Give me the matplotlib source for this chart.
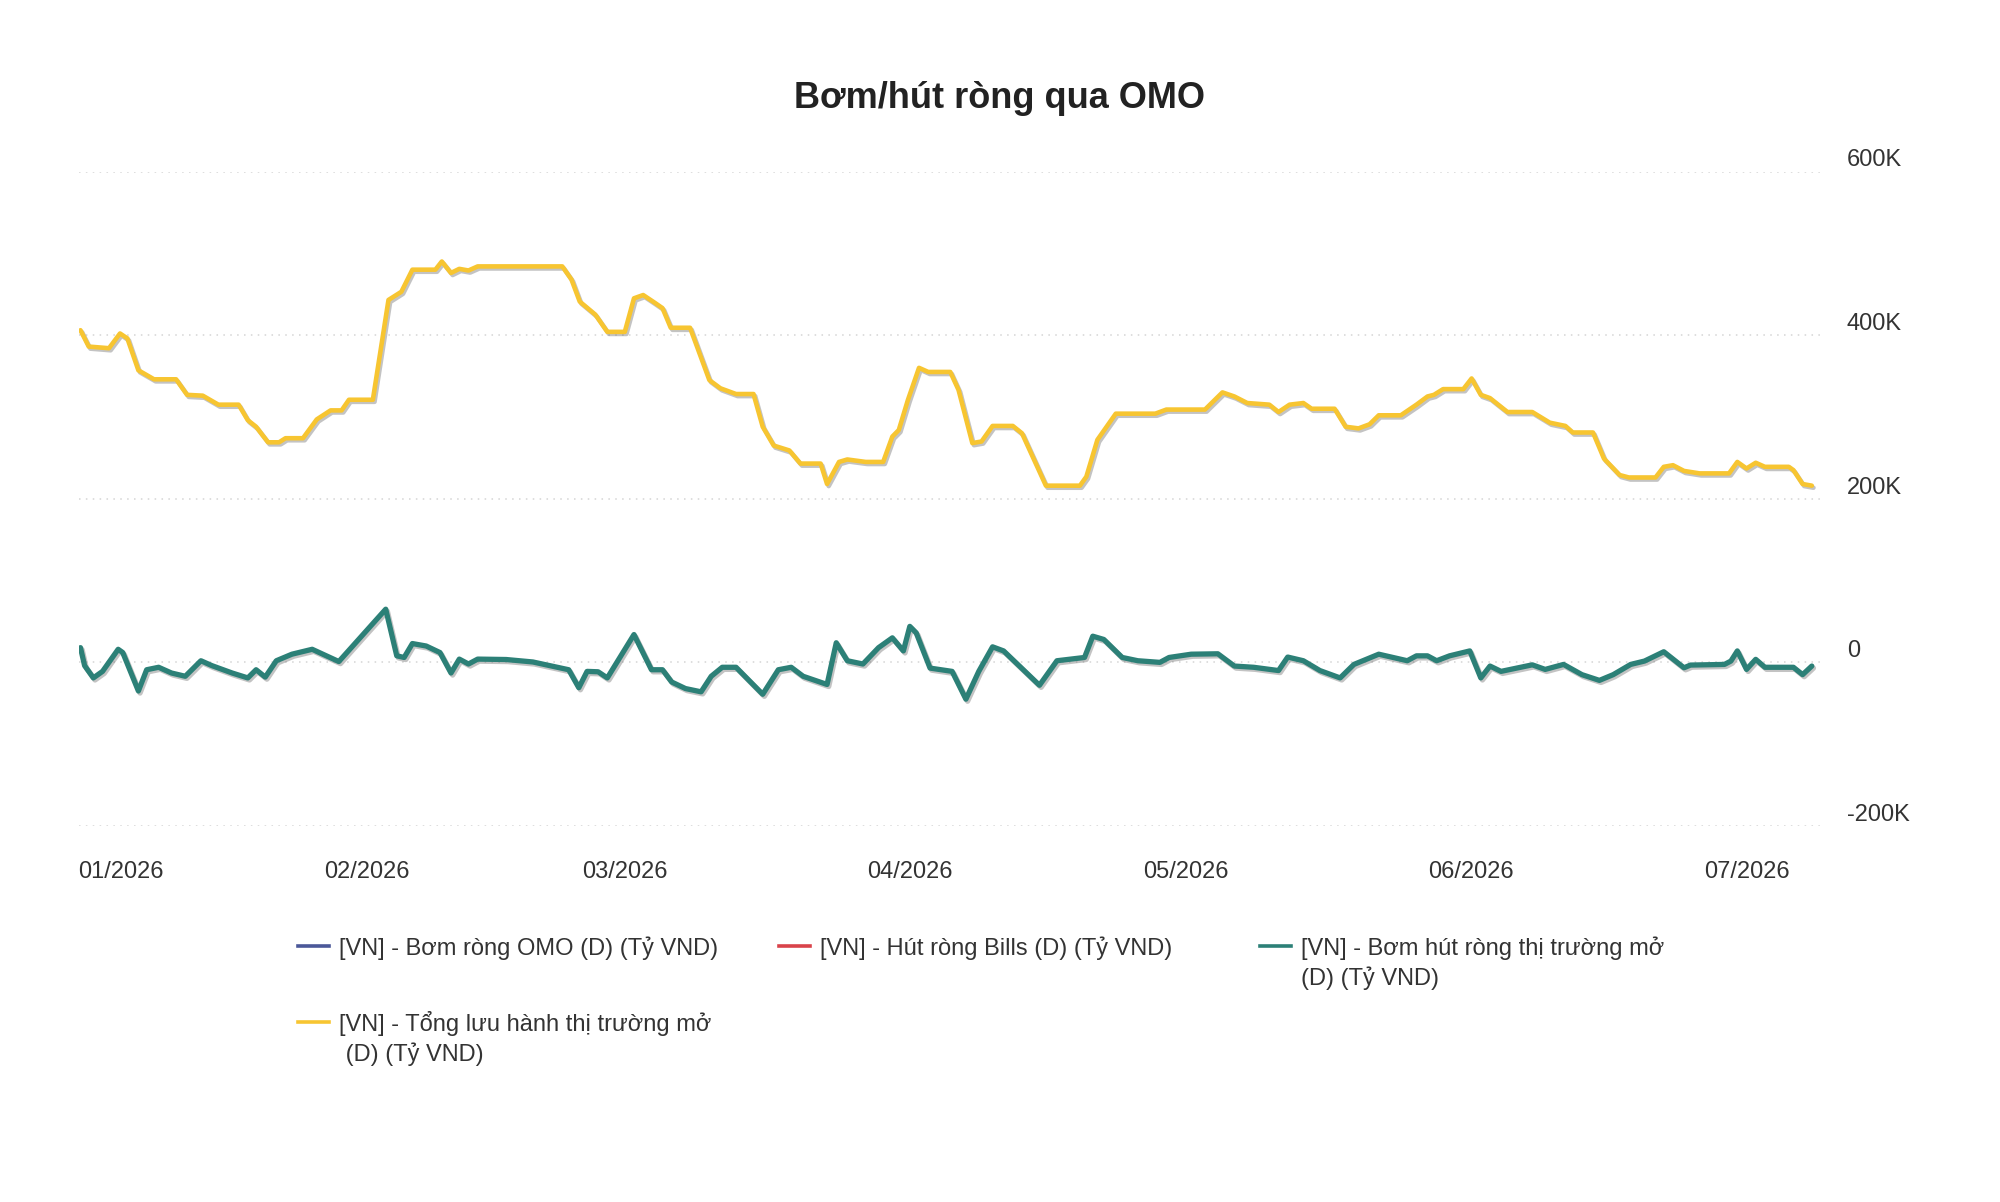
"""Recreate the OMO net injection / withdrawal line chart."""

from datetime import datetime, timedelta

import matplotlib

matplotlib.use("Agg")
import matplotlib.patheffects as pe
import matplotlib.pyplot as plt
from matplotlib.lines import Line2D
from matplotlib.transforms import ScaledTranslation

plt.rcParams["font.family"] = ["Liberation Sans", "DejaVu Sans"]

TITLE = "Bơm/hút ròng qua OMO"
START_DATE = datetime(2026, 1, 1)

# Days after 01/01/2026 and values in thousand billion VND (K).
OUTSTANDING_DAYS = [
    -0.2, 0.7, 2.9, 4.1, 4.9, 6.1, 7.8, 10.2, 11.4, 13.1, 14.8, 17.0, 18.0, 18.9,
    20.2, 21.4, 22.1, 24.0, 25.5, 27.0, 28.2, 29.0, 31.6, 33.3, 34.7, 35.9, 38.4,
    39.1, 40.1, 41.0, 42.0, 43.0, 52.2, 53.2, 54.1, 55.8, 57.1, 59.0, 60.0, 61.0,
    62.2, 63.1, 64.0, 66.1, 68.2, 69.4, 71.1, 73.0, 74.0, 75.2, 76.9, 78.1, 80.3,
    81.0, 82.3, 83.2, 85.2, 87.1, 88.1, 88.8, 89.8, 91.0, 92.0, 94.4, 95.3, 96.8,
    97.8, 99.0, 101.2, 102.2, 104.8, 108.5, 109.2, 110.4, 112.4, 116.7, 117.9,
    122.1, 124.0, 125.3, 126.7, 129.1, 130.1, 131.3, 132.8, 133.7, 136.2, 137.4,
    138.8, 140.0, 141.0, 143.4, 145.1, 146.3, 147.0, 148.0, 150.2, 151.1, 152.1,
    153.1, 155.0, 157.7, 159.6, 161.3, 162.1, 164.3, 165.5, 167.2, 168.2, 171.1,
    172.0, 173.0, 174.2, 175.9, 179.1, 180.0, 181.0, 182.0, 183.0, 185.6, 186.1,
    187.1, 188.1,
]
OUTSTANDING_VALUES = [
    406, 386, 384, 402, 396, 357, 346, 346, 327, 326, 315, 315, 296, 288,
    269, 269, 274, 274, 297, 308, 308, 321, 321, 443, 453, 480, 480,
    490, 476, 481, 479, 484, 484, 468, 441, 425, 404, 404, 445, 449,
    440, 433, 409, 409, 345, 335, 328, 328, 288, 265, 259, 243, 243,
    218, 245, 248, 245, 245, 276, 284, 321, 360, 355, 355, 333, 268,
    270, 289, 289, 280, 216, 216, 227, 272, 304, 304, 309,
    309, 330, 325, 317, 315, 306, 315, 317, 310, 310, 288,
    286, 291, 302, 302, 315, 325, 327, 334, 334, 347, 327,
    323, 306, 306, 293, 289, 281, 281, 249, 229, 226, 226,
    239, 241, 234, 231, 231, 245, 237, 244, 239, 239, 235,
    218, 216,
]

NET_DAYS = [
    -0.2, 0.25, 1.2, 2.2, 3.9, 4.4, 6.1, 7.0, 8.3, 9.7, 11.2, 12.9, 14.1, 16.3,
    18.0, 18.9, 19.9, 21.1, 22.8, 25.0, 27.9, 33.0, 34.2, 35.0, 35.9, 37.4, 38.9,
    40.1, 41.0, 42.0, 43.0, 46.1, 49.0, 52.9, 54.0, 54.9, 56.1, 57.1, 60.0, 61.9,
    63.1, 64.1, 65.6, 67.3, 68.4, 69.6, 71.1, 74.0, 75.7, 77.1, 78.4, 81.0, 82.0,
    83.2, 84.9, 86.6, 88.1, 89.3, 90.0, 90.7, 92.2, 94.6, 96.1, 97.5, 99.0, 100.2,
    104.1, 106.0, 109.0, 109.9, 111.1, 113.1, 114.8, 117.2, 118.2, 120.6, 123.5,
    125.3, 127.4, 130.1, 131.1, 132.8, 134.6, 136.8, 138.3, 141.0, 144.1, 145.1,
    146.3, 147.3, 148.7, 150.9, 152.1, 153.1, 154.3, 157.7, 159.1, 161.1, 163.1,
    165.0, 166.5, 168.4, 169.9, 172.0, 174.2, 174.9, 178.6, 179.3, 180.0, 181.0,
    182.0, 183.0, 186.1, 187.1, 188.1,
]
NET_VALUES = [
    18, -4, -19, -11, 16, 12, -35, -9, -6, -13, -17, 2, -4, -13,
    -19, -9, -18, 2, 10, 16, 1, 65, 8, 6, 23, 20, 12,
    -13, 4, -2, 4, 3.5, 0.5, -9, -31, -11, -11.5, -19, 34, -9,
    -9, -24, -32, -36, -17, -6, -6, -39, -9, -6, -17, -27, 24,
    2, -2, 18, 30, 14, 44, 36, -7, -11, -45, -11, 19, 14,
    -28, 2, 6, 32, 28, 6, 2, 0, 6, 10, 10.5,
    -4.5, -6, -10, 6.5, 2, -10, -19, -2.5, 10, 2, 8,
    8, 2, 8, 14, -19, -4.5, -11, -3, -8.6, -2.5, -15,
    -22, -15, -2.5, 1.6, 13, -6.6, -3.3, -2.5, 1.6, 14, -8.6,
    3.7, -6, -6, -15, -4.5,
]

SERIES_LABELS = [
    "[VN] - Bơm ròng OMO (D) (Tỷ VND)",
    "[VN] - Hút ròng Bills (D) (Tỷ VND)",
    "[VN] - Bơm hút ròng thị trường mở\n(D) (Tỷ VND)",
    "[VN] - Tổng lưu hành thị trường mở\n (D) (Tỷ VND)",
]
SERIES_COLORS = ["#4b5899", "#d9434a", "#2c8077", "#f7c531"]

MONTH_TICKS = [datetime(2026, m, 1) for m in range(1, 8)]
MONTH_LABELS = ["01/2026", "02/2026", "03/2026", "04/2026", "05/2026", "06/2026", "07/2026"]
Y_TICKS = [-200, 0, 200, 400, 600]
Y_LABELS = ["-200K", "0", "200K", "400K", "600K"]

FIG_W, FIG_H = 2000, 1202


def to_dates(days):
    """Turn day offsets into datetimes."""
    return [START_DATE + timedelta(days=d) for d in days]


def fig_xy(x_px, y_px):
    """Pixel position (from top-left) to figure fraction."""
    return x_px / FIG_W, 1 - y_px / FIG_H


def main():
    fig = plt.figure(figsize=(FIG_W / 100, FIG_H / 100), dpi=100)
    ax = fig.add_axes([79 / FIG_W, 1 - 826 / FIG_H, 1742 / FIG_W, 654.5 / FIG_H])

    shadow = [pe.SimpleLineShadow(offset=(1.2, -1.5), shadow_color="#555555", alpha=0.35),
              pe.Normal()]
    ax.plot(to_dates(NET_DAYS), NET_VALUES, color=SERIES_COLORS[2], lw=3.8,
            solid_joinstyle="round", solid_capstyle="round", path_effects=shadow, zorder=3)
    ax.plot(to_dates(OUTSTANDING_DAYS), OUTSTANDING_VALUES, color=SERIES_COLORS[3], lw=3.3,
            solid_joinstyle="round", solid_capstyle="round", path_effects=shadow, zorder=3)

    ax.set_xlim(START_DATE - timedelta(days=0.36), START_DATE + timedelta(days=189.1))
    ax.set_ylim(-200, 600)

    ax.set_xticks(MONTH_TICKS)
    ax.set_xticklabels(MONTH_LABELS)
    ax.tick_params(axis="x", length=0, pad=25, labelsize=17, labelcolor="#333333")
    # the first month label sits flush with the left edge of the plot
    first = ax.get_xticklabels()[0]
    first.set_ha("left")
    first.set_transform(first.get_transform() + ScaledTranslation(-0.04, 0, fig.dpi_scale_trans))

    ax.yaxis.tick_right()
    ax.set_yticks(Y_TICKS)
    ax.set_yticklabels(Y_LABELS, va="bottom")
    ax.tick_params(axis="y", length=0, pad=18.7, labelsize=17, labelcolor="#333333")

    ax.grid(axis="y", color="#d4d4d4", lw=1.1, linestyle=(0, (1, 3.5)))
    ax.grid(axis="x", visible=False)
    for spine in ax.spines.values():
        spine.set_visible(False)

    tx, ty = fig_xy(1000, 98.5)
    fig.text(tx, ty, TITLE, ha="center", va="center", fontsize=26,
             fontweight="bold", color="#222222")

    # legend laid out in fixed-width columns, row by row
    legend_slots = [(298, 946), (779, 946), (1260, 946), (298, 1022)]
    for (x_px, y_px), label, color in zip(legend_slots, SERIES_LABELS, SERIES_COLORS):
        x0, y0 = fig_xy(x_px, y_px)
        x1, _ = fig_xy(x_px + 31, y_px)
        fig.add_artist(Line2D([x0, x1], [y0, y0], transform=fig.transFigure,
                              color=color, lw=2.6))
        for i, line in enumerate(label.split("\n")):
            lx, ly = fig_xy(x_px + 41, y_px + 8.5 + i * 30.6)
            fig.text(lx, ly, line, ha="left", va="baseline", fontsize=17,
                     color="#333333")

    fig.savefig("out.png", dpi=100, facecolor="white")


if __name__ == "__main__":
    main()
